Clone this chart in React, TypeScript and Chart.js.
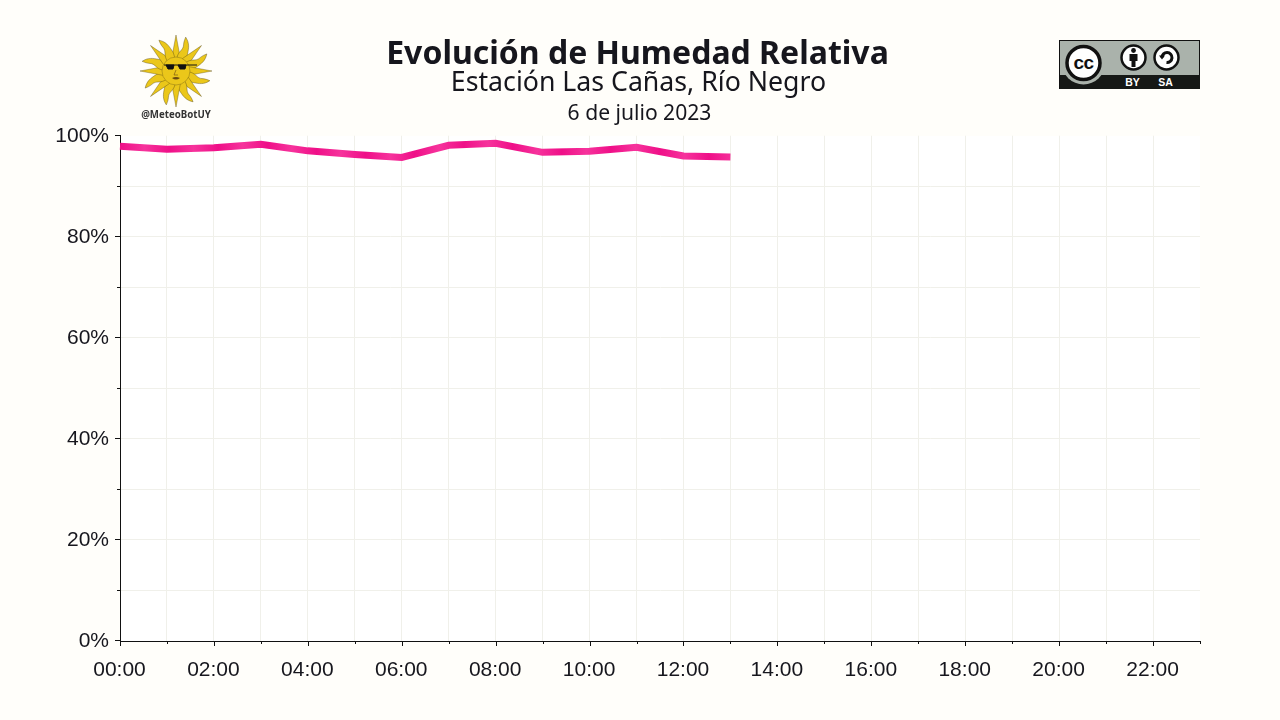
import React, { useEffect, useRef } from "react";
import { Chart, registerables } from "chart.js";

Chart.register(...registerables);

const hours = [
  "00:00", "01:00", "02:00", "03:00", "04:00", "05:00", "06:00", "07:00",
  "08:00", "09:00", "10:00", "11:00", "12:00", "13:00", "14:00", "15:00",
  "16:00", "17:00", "18:00", "19:00", "20:00", "21:00", "22:00", "23:00",
];
const humidity = [97.9, 97.3, 97.6, 98.3, 97, 96.3, 95.7, 98.1, 98.5, 96.7, 96.9, 97.7, 96, 95.8];

const TEXT = "#16161d";
const PAGE = "#fffefa";
const GRID = "#f0f0ea";
const AXIS_ROW = 641; // pixel row of the x axis line

// white plot background + hand drawn axis line and tick marks (major ones are longer)
const plotDecor = {
  id: "plotDecor",
  beforeDraw(chart: any) {
    const { ctx, chartArea: a } = chart;
    ctx.save();
    ctx.fillStyle = "#ffffff";
    ctx.fillRect(a.left, 136, a.right - a.left, AXIS_ROW - 136);
    ctx.restore();
  },
  afterDatasetsDraw(chart: any) {
    const { ctx, chartArea: a, scales } = chart;
    ctx.save();
    ctx.fillStyle = "#111111";
    ctx.fillRect(a.left, AXIS_ROW, a.right - a.left + 1, 1);
    ctx.fillRect(a.left, AXIS_ROW - 2, 1, 3);
    scales.x.ticks.forEach((_: any, i: number) => {
      const x = Math.round(scales.x.getPixelForTick(i));
      ctx.fillRect(x, AXIS_ROW, 1, i % 2 === 0 ? 5 : 3);
    });
    scales.y.ticks.forEach((t: any, i: number) => {
      const y = Math.round(scales.y.getPixelForTick(i) - 0.5);
      const len = t.value % 20 === 0 ? 5 : 3;
      ctx.fillRect(a.left - len, y, len, 1);
    });
    ctx.restore();
  },
};

// the reference line has soft light/dark pink bands along x
function bandedPink(context: any) {
  const { ctx, chartArea: a } = context.chart;
  if (!a) return "#f31a90";
  const g = ctx.createLinearGradient(a.left, 0, a.right, 0);
  const n = 44;
  for (let i = 0; i <= n; i++) g.addColorStop(i / n, i % 2 === 0 ? "#ef0f88" : "#f6339c");
  return g;
}

function Sun() {
  const rays = [];
  for (let i = 0; i < 16; i++) {
    const d =
      i % 2 === 0
        ? "M-4.5 -12 L0 -36 L4.5 -12 Z"
        : "M-4 -12 C-6 -19 -1 -22 -3 -27 C-4 -30 -4 -32 -4 -35 C2 -31 3 -26 4 -21 C5 -18 4 -15 4 -12 Z";
    rays.push(<path key={i} d={d} transform={`rotate(${i * 22.5})`} fill="#ebc71a" stroke="#4a3d10" strokeWidth="0.35" />);
  }
  return (
    <svg style={{ position: "absolute", left: 120, top: 25 }} width={112} height={100} viewBox="-56 -46 112 100">
      {rays}
      <circle r="14" fill="#ebc71a" stroke="#4a3d10" strokeWidth="0.3" />
      <path d="M-12 -6 H21 M-10 -6 H-2 L-3 -2 H-8 Z M2 -6 H10 L9 -2 H4 Z" fill="#111" stroke="#111" strokeWidth="1" />
      <path d="M-4 7 Q0 5 4 7 Q0 10 -4 7 Z" fill="#6a4a10" />
      <path d="M0 -1 L-2 4 H2" fill="none" stroke="#6a4a10" strokeWidth="0.6" />
    </svg>
  );
}

function CcBadge() {
  return (
    <svg style={{ position: "absolute", left: 1059, top: 40 }} width={141} height={49} viewBox="0 0 141 49">
      <rect x="0.5" y="0.5" width="140" height="48" fill="#aab2ab" stroke="#111" />
      <rect x="0" y="35" width="141" height="14" fill="#161816" />
      <circle cx="24.5" cy="23" r="21.5" fill="#aab2ab" />
      <rect x="0" y="0" width="1" height="49" fill="#111" />
      <circle cx="24.5" cy="23" r="16.5" fill="#fff" stroke="#111" strokeWidth="3.5" />
      <text x="24.5" y="29" textAnchor="middle" fontFamily="Liberation Sans" fontWeight="bold" fontSize="19" letterSpacing="-0.5" fill="#111">cc</text>
      <circle cx="74.5" cy="17.5" r="12" fill="#fff" stroke="#111" strokeWidth="2.5" />
      <circle cx="74.5" cy="10.5" r="2.4" fill="#111" />
      <path d="M70.5 14 H78.5 V21 H76.5 V27 H72.5 V21 H70.5 Z" fill="#111" />
      <circle cx="107.5" cy="17.5" r="12" fill="#fff" stroke="#111" strokeWidth="2.5" />
      <path d="M103 17.5 A5 5 0 1 1 107.5 22.5" fill="none" stroke="#111" strokeWidth="3" />
      <path d="M100 15.5 H106 L103 19.5 Z" fill="#111" />
      <text x="73.5" y="46" textAnchor="middle" fontFamily="Liberation Sans" fontWeight="bold" fontSize="10.5" fill="#fff">BY</text>
      <text x="106.5" y="46" textAnchor="middle" fontFamily="Liberation Sans" fontWeight="bold" fontSize="10.5" fill="#fff">SA</text>
    </svg>
  );
}

const lineStyle = (top: number, left: number, size: number, weight: number): React.CSSProperties => ({
  position: "absolute",
  left,
  width: 1277,
  top,
  textAlign: "center",
  fontFamily: '"Noto Sans"',
  fontSize: size,
  fontWeight: weight,
  lineHeight: "40px",
  color: TEXT,
  whiteSpace: "nowrap",
});

export default function App() {
  const canvasRef = useRef<HTMLCanvasElement>(null);

  useEffect(() => {
    document.body.style.margin = "0";
    document.body.style.background = PAGE;
    if (!canvasRef.current) return;

    const chart = new Chart(canvasRef.current, {
      type: "line",
      data: {
        labels: hours,
        datasets: [
          {
            data: humidity,
            borderColor: bandedPink,
            borderWidth: 7,
            pointRadius: 0,
            tension: 0,
            borderCapStyle: "butt",
            borderJoinStyle: "miter",
          },
        ],
      },
      options: {
        animation: false,
        responsive: false,
        layout: { padding: { top: 135.7, right: 80, left: 0, bottom: 0 } },
        plugins: {
          legend: { display: false },
          tooltip: { enabled: false },
          title: { display: false },
        },
        scales: {
          x: {
            offset: false,
            afterFit: (s: any) => { s.height = 79.3; },
            grid: {
              color: (c: any) => (c.index === hours.length - 1 ? "transparent" : GRID),
              drawTicks: false,
              lineWidth: 1,
            },
            border: { display: false },
            ticks: {
              autoSkip: false,
              maxRotation: 0,
              padding: 16.6,
              labelOffset: -0.5,
              color: TEXT,
              font: { family: "Liberation Sans", size: 21 },
              callback: (_v: any, i: number) => (i % 2 === 0 ? hours[i] : ""),
            },
          },
          y: {
            min: 0,
            max: 100,
            afterFit: (s: any) => { s.width = 120; },
            grid: {
              color: (c: any) => (c.tick && (c.tick.value === 100 || c.tick.value === 0) ? "transparent" : GRID),
              drawTicks: false,
              lineWidth: 1,
            },
            border: { color: "#111111", width: 1 },
            ticks: {
              stepSize: 10,
              padding: 11,
              labelOffset: 1,
              color: TEXT,
              font: { family: "Liberation Sans", size: 21 },
              callback: (v: any) => (v % 20 === 0 ? v + "%" : ""),
            },
          },
        },
      },
      plugins: [plotDecor],
    });

    return () => chart.destroy();
  }, []);

  return (
    <div style={{ position: "relative", width: 1280, height: 720, background: PAGE, overflow: "hidden" }}>
      <canvas ref={canvasRef} width={1280} height={720} style={{ position: "absolute", left: 0, top: 0 }} />
      <div style={lineStyle(32, -1, 32, 700)}>Evolución de Humedad Relativa</div>
      <div style={lineStyle(61, 0, 26.7, 400)}>Estación Las Cañas, Río Negro</div>
      <div style={lineStyle(91.5, 1, 21.1, 400)}>6 de julio 2023</div>
      <Sun />
      <div style={{ position: "absolute", left: 120, width: 112, top: 108, textAlign: "center", fontFamily: '"Noto Sans"', fontWeight: 700, fontSize: 9.7, color: "#333", lineHeight: "14px" }}>@MeteoBotUY</div>
      <CcBadge />
    </div>
  );
}
